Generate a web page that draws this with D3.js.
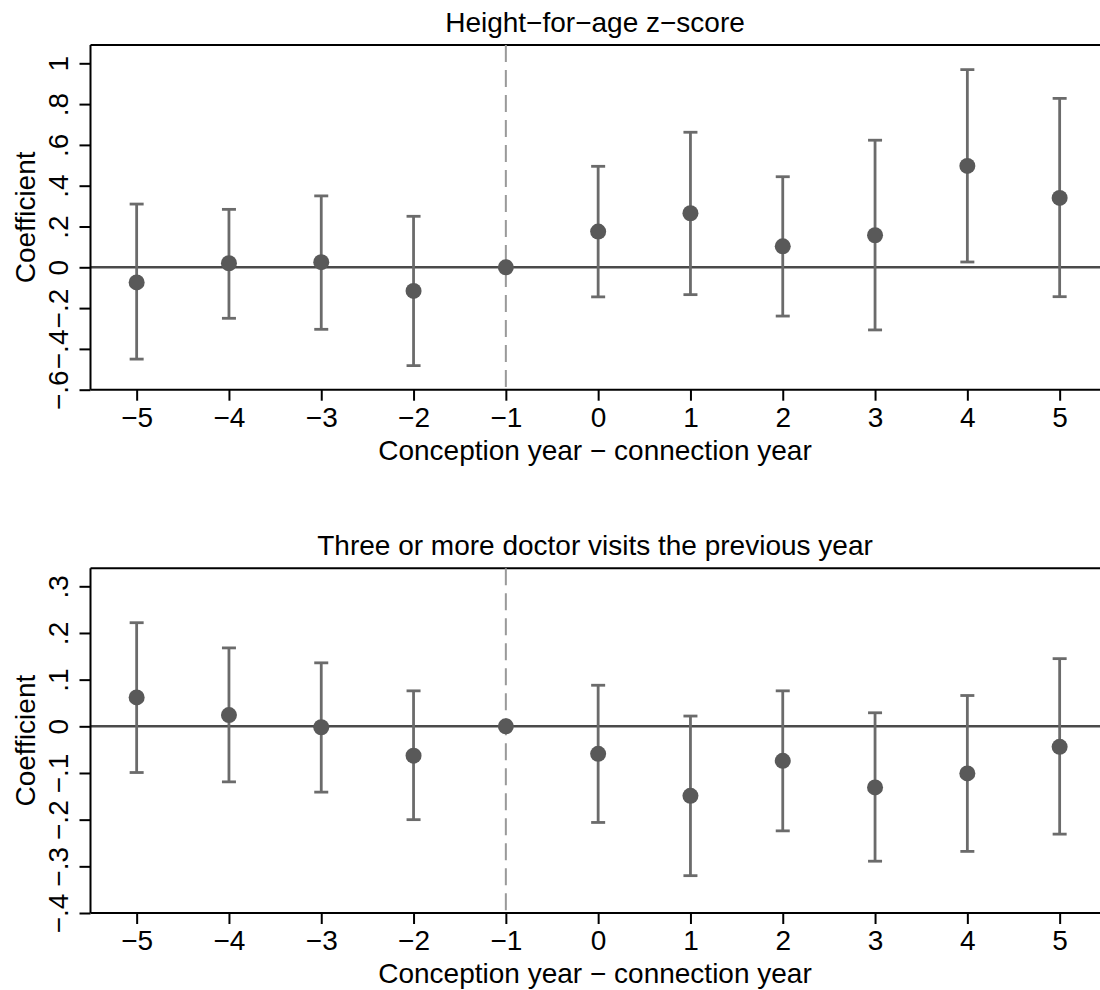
<!DOCTYPE html>
<html>
<head>
<meta charset="utf-8">
<script src="https://cdn.jsdelivr.net/npm/d3@7"></script>
<style>
  body { margin: 0; background: #fff; }
  svg { font-family: "Liberation Sans", Arial, Helvetica, sans-serif; }
</style>
</head>
<body>
<div id="chart"></div>
<script>
// event-time relative to connection year
var years = [-5, -4, -3, -2, -1, 0, 1, 2, 3, 4, 5];

// Height-for-age z-score
var hazCoef = [-0.074, 0.020, 0.025, -0.116, 0, 0.175, 0.265, 0.103, 0.157, 0.497, 0.340];
var hazLo   = [-0.450, -0.250, -0.304, -0.482, null, -0.145, -0.134, -0.239, -0.307, 0.026, -0.144];
var hazHi   = [0.310, 0.284, 0.350, 0.250, null, 0.495, 0.662, 0.444, 0.623, 0.969, 0.828];
var hazTicks = [-0.6, -0.4, -0.2, 0, 0.2, 0.4, 0.6, 0.8, 1];

// Three or more doctor visits the previous year
var docCoef = [0.062, 0.024, -0.002, -0.063, 0, -0.059, -0.149, -0.074, -0.131, -0.101, -0.044];
var docLo   = [-0.099, -0.119, -0.141, -0.200, null, -0.206, -0.320, -0.224, -0.289, -0.268, -0.231];
var docHi   = [0.222, 0.168, 0.136, 0.076, null, 0.088, 0.022, 0.076, 0.029, 0.066, 0.145];
var docTicks = [-0.4, -0.3, -0.2, -0.1, 0, 0.1, 0.2, 0.3];

var W = 1100, H = 990;
var fs = 28;

var svg = d3.select("#chart")
            .append("svg")
            .attr("width", W)
            .attr("height", H)

var x = d3.scaleLinear()
    .domain([-5.5, 5.5])
    .range([90.5, 90.5 + 11 * 92.3])

function fmt(v) {
    if (v === 0) return "0";
    var s = d3.format(".1f")(Math.abs(v)).replace(/^0/, "").replace(/\.0$/, "");
    return (v < 0 ? "\u2212" : "") + s;
}

function panel(title, coef, lo, hi, ticks, boxTop, yTop, yBot, topVal) {
    var y = d3.scaleLinear()
        .domain([ticks[0], topVal])
        .range([yBot, yTop])
    var boxBot = yBot;

    var g = svg.append("g");

    // title
    g.append("text")
        .attr("x", 595)
        .attr("y", boxTop - 13)
        .attr("text-anchor", "middle")
        .style("font-size", fs + "px")
        .text(title)

    // frame top
    g.append("line")
        .attr("x1", x.range()[0]).attr("x2", W + 5)
        .attr("y1", boxTop).attr("y2", boxTop)
        .style("stroke", "#000").style("stroke-width", 2)

    // zero line
    g.append("line")
        .attr("x1", x.range()[0]).attr("x2", W + 5)
        .attr("y1", y(0)).attr("y2", y(0))
        .style("stroke", "#4a4a4a").style("stroke-width", 2.5)

    // dashed reference at -1
    g.append("line")
        .attr("x1", x(-1)).attr("x2", x(-1))
        .attr("y1", boxTop).attr("y2", boxBot)
        .style("stroke", "#999").style("stroke-width", 2)
        .style("stroke-dasharray", "17,8")

    // y axis
    var ya = g.append("g")
        .attr("transform", "translate(" + x.range()[0] + ",0)")
        .call(d3.axisLeft(y).tickValues(ticks).tickSize(11).tickSizeOuter(0).tickFormat(fmt))
    ya.select(".domain").attr("d", "M0," + boxTop + "V" + boxBot).style("stroke-width", 2);
    ya.selectAll(".tick line").style("stroke-width", 2);
    ya.selectAll(".tick text")
        .attr("x", 0).attr("dy", 0)
        .attr("transform", "translate(-23,0) rotate(-90)")
        .attr("text-anchor", "middle")
        .style("font-size", fs + "px")
        .style("font-family", "inherit")
        .style("fill", "#000")

    // x axis
    var xa = g.append("g")
        .attr("transform", "translate(0," + boxBot + ")")
        .call(d3.axisBottom(x).tickValues(years).tickSize(11).tickSizeOuter(0).tickFormat(fmt))
    xa.select(".domain").attr("d", "M" + x.range()[0] + ",0H" + (W + 5)).style("stroke-width", 2);
    xa.selectAll(".tick line").style("stroke-width", 2);
    xa.selectAll(".tick text")
        .attr("y", 37).attr("dy", 0)
        .style("font-size", fs + "px")
        .style("font-family", "inherit")
        .style("fill", "#000")

    // axis titles
    g.append("text")
        .attr("transform", "translate(35," + ((boxTop + boxBot) / 2) + ") rotate(-90)")
        .attr("text-anchor", "middle")
        .style("font-size", fs + "px")
        .text("Coefficient")

    g.append("text")
        .attr("x", 595)
        .attr("y", boxBot + 70)
        .attr("text-anchor", "middle")
        .style("font-size", fs + "px")
        .text("Conception year \u2212 connection year")

    var data = years.map(function(d, i) {
        return {yr: d, c: coef[i], lo: lo[i], hi: hi[i]};
    });
    var ci = data.filter(function(d) { return d.lo !== null; });

    var bars = g.append("g")
        .style("stroke", "#6b6b6b")
        .style("stroke-width", 2.8)
    bars.selectAll(".v").data(ci).enter().append("line")
        .attr("x1", function(d) { return x(d.yr); })
        .attr("x2", function(d) { return x(d.yr); })
        .attr("y1", function(d) { return y(d.lo); })
        .attr("y2", function(d) { return y(d.hi); })
    bars.selectAll(".cl").data(ci).enter().append("line")
        .attr("x1", function(d) { return x(d.yr) - 7; })
        .attr("x2", function(d) { return x(d.yr) + 7; })
        .attr("y1", function(d) { return y(d.lo); })
        .attr("y2", function(d) { return y(d.lo); })
    bars.selectAll(".ch").data(ci).enter().append("line")
        .attr("x1", function(d) { return x(d.yr) - 7; })
        .attr("x2", function(d) { return x(d.yr) + 7; })
        .attr("y1", function(d) { return y(d.hi); })
        .attr("y2", function(d) { return y(d.hi); })

    g.append("g").selectAll("circle").data(data).enter().append("circle")
        .attr("cx", function(d) { return x(d.yr); })
        .attr("cy", function(d) { return y(d.c); })
        .attr("r", 8)
        .style("fill", "#595959")
}

panel("Height\u2212for\u2212age z\u2212score", hazCoef, hazLo, hazHi, hazTicks, 45, 63.3, 389.7, 1);
panel("Three or more doctor visits the previous year", docCoef, docLo, docHi, docTicks, 568.3, 586.3, 913, 0.3);
</script>
</body>
</html>
